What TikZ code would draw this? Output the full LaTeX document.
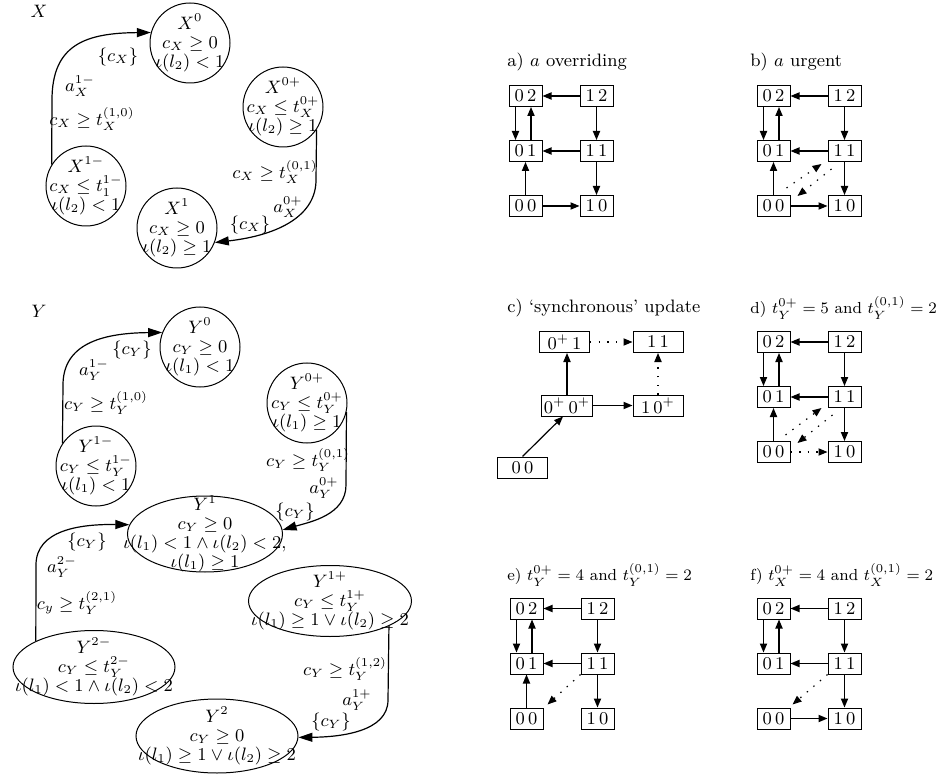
\documentclass[tikz,border=0pt]{standalone}
\usetikzlibrary{arrows.meta,shapes.geometric}
\newcommand{\mkgrid}[3]{%
  \node[bx] (#1-02) at ({#2},{#3}) {$0\,2$};
  \node[bx] (#1-12) at ({#2+71},{#3}) {$1\,2$};
  \node[bx] (#1-01) at ({#2},{#3+55}) {$0\,1$};
  \node[bx] (#1-11) at ({#2+71},{#3+55}) {$1\,1$};
  \node[bx] (#1-00) at ({#2},{#3+110}) {$0\,0$};
  \node[bx] (#1-10) at ({#2+71},{#3+110}) {$1\,0$};
  \draw[ar] (#1-12) -- (#1-02);
  \draw[ar] ([shift={(-10,0)}]#1-02.south) -- ([shift={(-10,0)}]#1-01.north);
  \draw[ar] ([shift={(5.5,0)}]#1-01.north) -- ([shift={(5.5,0)}]#1-02.south);
  \draw[ar] (#1-12) -- (#1-11);
  \draw[ar] (#1-11) -- (#1-01);
  \draw[ar] (#1-11) -- (#1-10);
}
\begin{document}
\begin{tikzpicture}[x=0.5pt,y=-0.5pt,
  every node/.style={font=\fontsize{9}{9.5}\selectfont},
  state/.style={circle,draw,line width=0.5pt,minimum size=40pt,inner sep=0pt},
  ostate/.style={ellipse,draw,line width=0.5pt,inner sep=0pt},
  stxt/.style={align=center,inner sep=0pt},
  tr/.style={line width=0.6pt,-{Triangle[length=7pt,width=4.5pt]}},
  bx/.style={draw,line width=0.5pt,minimum width=16.5pt,minimum height=10.5pt,inner sep=1pt},
  ar/.style={line width=0.6pt,-{Triangle[length=4.5pt,width=3.6pt]}},
  dar/.style={ar,dash pattern=on 0.7pt off 3.6pt},
  ttl/.style={anchor=west,inner sep=0pt},
  ttlm/.style={ttl,font=\fontsize{8}{9}\selectfont}]
\useasboundingbox (0,0) rectangle (937,775);

% ---------------- X ----------------
\node (xlab) at (39,11) {$X$};
\node[state] (x0) at (190,43) {};
\node[stxt] (x0t) at (x0) {$X^0$\\$c_X\geq 0$\\$\iota(l_2)<1$};
\node[state] (x0p) at (283,107) {};
\node[stxt] (x0pt) at (x0p) {$X^{0+}$\\$c_X\leq t_X^{0+}$\\$\iota(l_2)\geq 1$};
\node[state] (x1m) at (86,186) {};
\node[stxt] (x1mt) at (x1m) {$X^{1-}$\\$c_X\leq t_1^{1-}$\\$\iota(l_2)<1$};
\node[state] (x1) at (177,228) {};
\node[stxt] (x1t) at (x1) {$X^1$\\$c_X\geq 0$\\$\iota(l_2)\geq 1$};

\draw[tr] (x1m.148) -- (52,100) .. controls (52,45) and (85,33) .. (x0.165);
\node (lx1) at (118,57) {$\{c_X\}$};
\node (lx2) at (80,86) {$a_X^{1-}$};
\node (lx3) at (92,119) {$c_X\geq t_X^{(1,0)}$};

\draw[tr] (x0p.-34) -- (316,180) .. controls (316,215) and (280,235) .. (x1.-21);
\node (lx4) at (275,172) {$c_X\geq t_X^{(0,1)}$};
\node (lx5) at (288,207) {$a_X^{0+}$};
\node (lx6) at (250,225) {$\{c_X\}$};

% ---------------- Y ----------------
\node (ylab) at (39,311) {$Y$};
\node[state] (y0) at (200,347) {};
\node[stxt] (y0t) at (y0) {$Y^0$\\$c_Y\geq 0$\\$\iota(l_1)<1$};
\node[state] (y0p) at (307,403) {};
\node[stxt] (y0pt) at (y0p) {$Y^{0+}$\\$c_Y\leq t_Y^{0+}$\\$\iota(l_1)\geq 1$};
\node[state] (y1m) at (96,466) {};
\node[stxt] (y1mt) at (y1m) {$Y^{1-}$\\$c_Y\leq t_Y^{1-}$\\$\iota(l_1)<1$};
\node[ostate,minimum width=77.5pt,minimum height=38pt] (y1) at (205,534) {};
\node[stxt] (y1t) at (y1) {$Y^1$\\$c_Y\geq 0$\\$\iota(l_1)<1\wedge\iota(l_2)<2,$\\$\iota(l_1)\geq 1$};
\node[ostate,minimum width=81.5pt,minimum height=35.5pt] (y1p) at (330,601) {};
\node[stxt] (y1pt) at (y1p) {$Y^{1+}$\\$c_Y\leq t_Y^{1+}$\\$\iota(l_1)\geq 1\vee\iota(l_2)\geq 2$};
\node[ostate,minimum width=81pt,minimum height=36.5pt] (y2m) at (94,667) {};
\node[stxt] (y2mt) at (y2m) {$Y^{2-}$\\$c_Y\leq t_Y^{2-}$\\$\iota(l_1)<1\wedge\iota(l_2)<2$};
\node[ostate,minimum width=81pt,minimum height=37pt] (y2) at (217,736) {};
\node[stxt] (y2t) at (y2) {$Y^2$\\$c_Y\geq 0$\\$\iota(l_1)\geq 1\vee\iota(l_2)\geq 2$};

\draw[tr] (y1m.146) -- (63,385) .. controls (63,345) and (100,333) .. (y0.159);
\node (ly1) at (132,350) {$\{c_Y\}$};
\node (ly2) at (94,370) {$a_Y^{1-}$};
\node (ly3) at (106,403) {$c_Y\geq t_Y^{(1,0)}$};

\draw[tr] (y0p.-13) -- (346,485) .. controls (346,515) and (310,522) .. (y1.3);
\node (ly4) at (308,460) {$c_Y\geq t_Y^{(0,1)}$};
\node (ly5) at (324,488) {$a_Y^{0+}$};
\node (ly6) at (295,512) {$\{c_Y\}$};

\draw[tr] (y2m.156) -- (36,565) .. controls (36,530) and (80,524) .. (y1.173);
\node (ly7) at (87,542) {$\{c_Y\}$};
\node (ly8) at (62,567) {$a_Y^{2-}$};
\node (ly9) at (77,603) {$c_y\geq t_Y^{(2,1)}$};

\draw[tr] (y1p.-23) -- (388,700) .. controls (388,732) and (340,737) .. (y2.-1);
\node (ly10) at (345,669) {$c_Y\geq t_Y^{(1,2)}$};
\node (ly11) at (357,700) {$a_Y^{1+}$};
\node (ly12) at (331,722) {$\{c_Y\}$};

% ---------------- a) ----------------
\node[ttl] (ta) at (507,62) {a) $a$ overriding};
\mkgrid{a}{525.5}{96}
\draw[ar] (a-00) -- (a-01);
\draw[ar] (a-00) -- (a-10);

% ---------------- b) ----------------
\node[ttl] (tb) at (750,62) {b) $a$ urgent};
\mkgrid{b}{773.5}{96}
\draw[ar] (b-00) -- (b-01);
\draw[ar] (b-00) -- (b-10);
\draw[dar] ([shift={(-4,-7)}]b-00.north east) -- ([shift={(-6,2)}]b-11.south west);
\draw[dar] ([shift={(4,7)}]b-11.south west) -- ([shift={(7,1)}]b-00.north east);

% ---------------- c) ----------------
\node[ttl] (tc) at (507,308) {c) `synchronous' update};
\node[bx,minimum width=25pt] (c-p1) at (564.5,342) {$0^+\,1$};
\node[bx,minimum width=25pt] (c-11) at (658,342) {$1\,1$};
\node[bx,minimum width=25pt] (c-pp) at (567,405.5) {$0^+\,0^+$};
\node[bx,minimum width=25pt] (c-1p) at (658,405.5) {$1\,0^+$};
\node[bx,minimum width=25pt] (c-00) at (522.5,467.5) {$0\,0$};
\draw[ar] (c-00.north) -- ([xshift=-2pt]c-pp.south);
\draw[ar] (c-pp.north) -- (c-pp.north |- c-p1.south);
\draw[ar] (c-pp) -- (c-1p);
\draw[dar] (c-p1) -- (c-11);
\draw[dar] (c-1p) -- (c-11);

% ---------------- d) ----------------
\node[ttlm] (td) at (750,308) {d) $t_Y^{0+}=5$ and $t_Y^{(0,1)}=2$};
\mkgrid{d}{773.5}{342}
\draw[ar] (d-00) -- (d-01);
\draw[dar] (d-00) -- (d-10);
\draw[dar] ([shift={(-5,-6)}]d-00.north east) -- ([shift={(-6,0)}]d-11.south west);
\draw[dar] ([shift={(5,7)}]d-11.south west) -- ([shift={(7,2)}]d-00.north east);

% ---------------- e) ----------------
\node[ttlm] (te) at (507,575) {e) $t_Y^{0+}=4$ and $t_Y^{(0,1)}=2$};
\mkgrid{e}{526.5}{608.5}
\draw[ar] (e-00) -- (e-01);
\draw[dar] (e-11.south west) -- ([shift={(4,-3)}]e-00.north east);

% ---------------- f) ----------------
\node[ttlm] (tf) at (750,575) {f) $t_X^{0+}=4$ and $t_X^{(0,1)}=2$};
\mkgrid{f}{773.5}{608.5}
\draw[ar] (f-00) -- (f-10);
\draw[dar] (f-11.south west) -- ([shift={(2,-3)}]f-00.north east);
\end{tikzpicture}
\end{document}
